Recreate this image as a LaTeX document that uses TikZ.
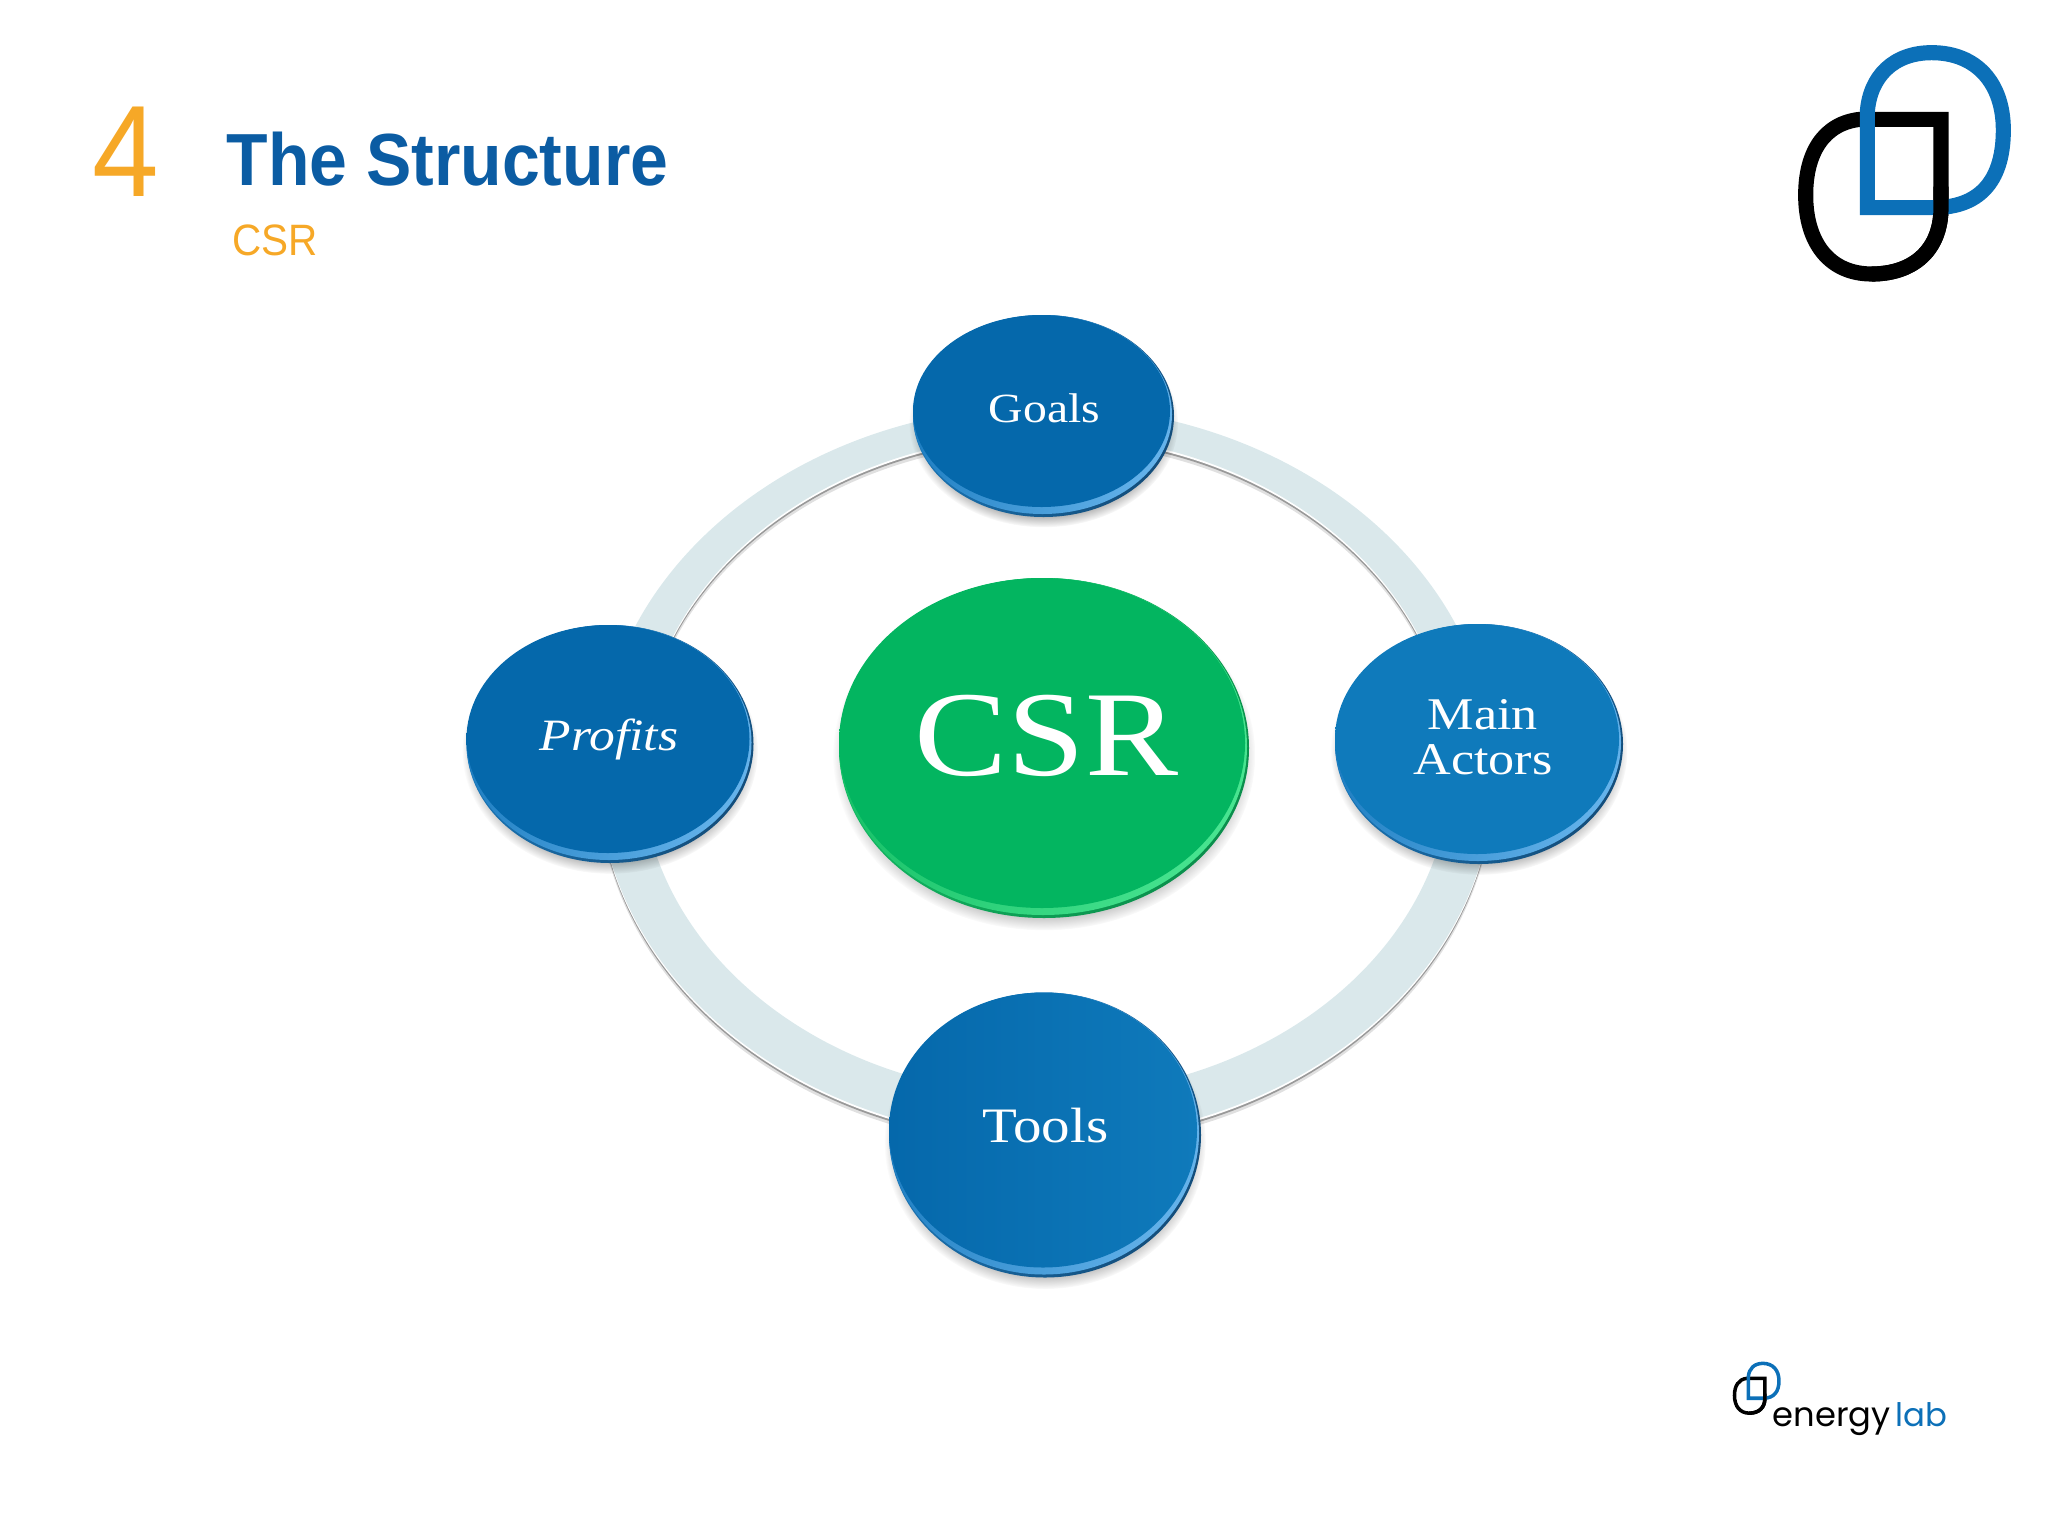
\documentclass[tikz,border=0pt]{standalone}
\usepackage{fontspec}
\usetikzlibrary{shapes.geometric,shadows,fadings}
\newfontfamily\discfont[FakeStretch=1.15]{Liberation Serif}
\newfontfamily\titlefont[FakeStretch=.92]{Liberation Sans}
\newfontfamily\wordfont{Poppins}
\definecolor{titleblue}{HTML}{0B5CA3}
\definecolor{headorange}{HTML}{F6A827}
\definecolor{logoblue}{HTML}{0C70B8}
\definecolor{faceblue}{HTML}{0568AB}
\definecolor{sideblue}{HTML}{0F7ABB}
\definecolor{rimblue}{HTML}{1B7CC0}
\definecolor{lightblue}{HTML}{64B2EA}
\definecolor{darkblue}{HTML}{134E7C}
\definecolor{facegreen}{HTML}{03B560}
\definecolor{rimgreen}{HTML}{14BF66}
\definecolor{lightgreen}{HTML}{48E490}
\definecolor{darkgreen}{HTML}{0A8F4C}
\definecolor{ringface}{HTML}{DAE8EB}
\tikzset{
  disc/.style 2 args = {ellipse, inner sep=0pt, outer sep=0pt,
    minimum width=(#1)*0.01cm, minimum height=(#2)*0.01cm},
  rimlow/.style = {circular drop shadow={shadow xshift=0pt, shadow yshift=-2pt,
    shadow scale=1.03, fill=black, opacity=.4}},% soft shadow under the disc
  txt/.style = {text=white, align=center, inner sep=0pt},
  head/.style = {inner sep=0pt, anchor=base west},
  pics/mark/.style = {code={
    \draw[line width=#1, black, miter limit=10] (543,570) -- (543,298) -- (300,298)
      .. controls (190,310) and (137,400) .. (137,525)
      .. controls (137,670) and (210,762) .. (335,762)
      .. controls (460,762) and (543,690) .. (543,563);
    \draw[line width=#1, logoblue, miter limit=10] (322,563) -- (322,275)
      .. controls (330,170) and (400,98) .. (515,98)
      .. controls (650,98) and (730,190) .. (730,330)
      .. controls (730,470) and (670,563) .. (520,563) -- cycle;
    \draw[line width=#1, black] (335,762)
      .. controls (460,762) and (543,690) .. (543,563) -- (543,500);
  }}
}
\begin{document}
\begin{tikzpicture}[x=0.01cm,y=-0.01cm]
\useasboundingbox (0,0) rectangle (2048,1536);
% heading
\node [head, text=headorange, font=\titlefont\fontsize{37pt}{40pt}\selectfont] (num) at (92,196) {4};
\node [head, text=titleblue, font=\titlefont\bfseries\fontsize{21pt}{24pt}\selectfont] (title) at (226,185) {The Structure};
\node [head, text=headorange, font=\titlefont\fontsize{12.5pt}{15pt}\selectfont] (sub) at (232,255) {CSR};
% logos
\pic [scale=1/3] (biglogo) at (1760,20) {mark=4.3pt};
\pic [scale=0.075] (smalllogo) at (1724.2,1356) {mark=1pt};
\node [head, text=black, font=\wordfont\fontsize{9.6pt}{11pt}\selectfont] (word) at (1772,1426) {energy};
\node [head, text=logoblue, font=\wordfont\fontsize{9.2pt}{11pt}\selectfont] (lab) at (1895,1426) {lab};
% ring, shadow and white edge below the face
\foreach \off/\col in {7/black!12, 4/black!40, 2/white, 0/ringface}{
  \fill [\col, even odd rule, yshift=-\off*0.01cm]
    (1046,773) ellipse [x radius=448, y radius=367]
    (1046,765) ellipse [x radius=405, y radius=330];
}
% discs, rims first
\foreach \nm/\x/\y/\w/\h/\dk/\lt/\rm/\fl/\fr in {
    goals/1043.5/416/261/202/darkblue/lightblue/rimblue/faceblue/faceblue,
    profits/610/744/287/238/darkblue/lightblue/rimblue/faceblue/faceblue,
    actors/1479/744/288/240/darkblue/lightblue/rimblue/sideblue/sideblue,
    tools/1045/1135/312/285/darkblue/lightblue/rimblue/faceblue/sideblue,
    csr/1044/748/410/340/darkgreen/lightgreen/rimgreen/facegreen/facegreen}{
  \node [disc={\w}{\h}, rimlow, left color=\rm, right color=\dk, shading angle=60] (\nm low) at (\x,\y) {};
  \node [disc={\w-2}{\h-3}, left color=\rm, right color=\lt, shading angle=70] (\nm high) at (\x-1,\y-1.5) {};
  \node [disc={\w-4}{\h-10}, left color=\fl, right color=\fr] (\nm face) at (\x-2,\y-5) {};
}
% labels
\node [txt, font=\discfont\fontsize{11.8pt}{13pt}\selectfont] (goals) at (1044.5,408) {Goals};
\node [txt, font=\discfont\itshape\fontsize{12.75pt}{14pt}\selectfont] (profits) at (609,739) {Profits};
\node [txt, font=\discfont\fontsize{12.9pt}{12.7pt}\selectfont] (actors) at (1483,737) {Main\\Actors};
\node [txt, font=\discfont\fontsize{14.1pt}{15pt}\selectfont] (tools) at (1045.5,1125.5) {Tools};
\node [txt, font=\discfont\fontsize{34.5pt}{36pt}\selectfont] (csr) at (1046.5,736) {CSR};
\end{tikzpicture}
\end{document}
